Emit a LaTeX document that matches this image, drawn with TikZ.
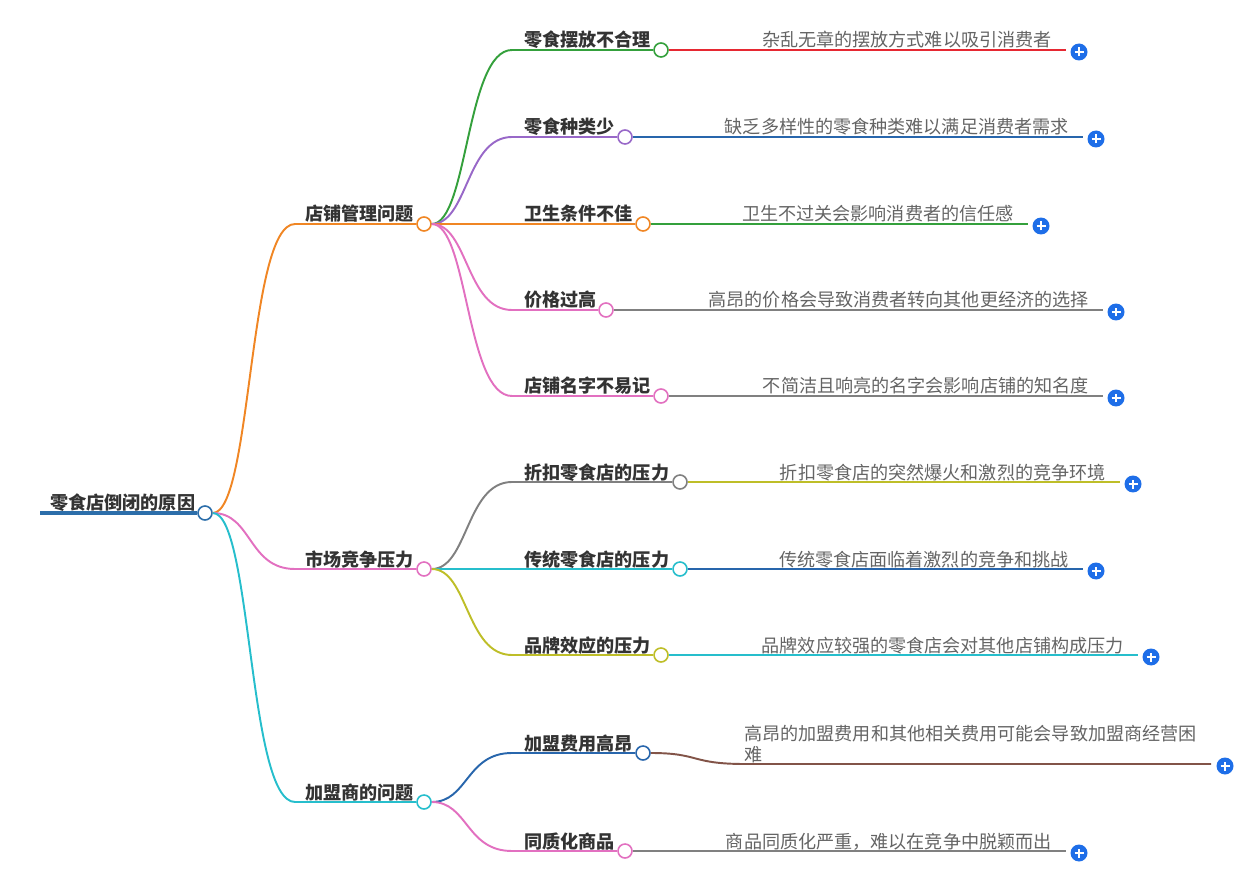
\documentclass[tikz,border=0pt]{standalone}
\usepackage{fontspec}
\setmainfont{Noto Sans CJK SC}
\usepackage{tikz}
\usetikzlibrary{positioning}
\usepackage{xcolor}
\definecolor{rootblue}{RGB}{44,110,170}
\definecolor{corange}{RGB}{240,134,36}
\definecolor{cpink}{RGB}{226,112,192}
\definecolor{ccyan}{RGB}{38,190,204}
\definecolor{cgreen}{RGB}{52,160,60}
\definecolor{cpurple}{RGB}{152,104,200}
\definecolor{cred}{RGB}{230,40,50}
\definecolor{cblue}{RGB}{40,102,172}
\definecolor{cgray}{RGB}{128,128,128}
\definecolor{colive}{RGB}{190,190,40}
\definecolor{cbrown}{RGB}{130,84,72}
\definecolor{plusblue}{RGB}{30,110,232}
\definecolor{txtdark}{RGB}{51,51,51}
\definecolor{txtgray}{RGB}{100,100,100}

\begin{document}
\begin{tikzpicture}[x=0.02cm, y=-0.02cm,
    dot/.style={circle, draw=#1, fill=white, line width=0.9pt, minimum size=0.28cm, inner sep=0pt},
    lbl/.style={anchor=base west, inner sep=0pt, text=txtdark, font=\fontsize{10.3}{12}\selectfont\bfseries},
    desc/.style={anchor=base east, inner sep=0pt, text=txtgray, font=\fontsize{10.3}{12}\selectfont},
    link/.style={line width=1.1pt},
    plusbtn/.style={circle, fill=plusblue, minimum size=0.34cm, inner sep=0pt,
        path picture={\draw[white, line width=1.1pt]
            ([xshift=-0.09cm]path picture bounding box.center) -- ([xshift=0.09cm]path picture bounding box.center)
            ([yshift=-0.09cm]path picture bounding box.center) -- ([yshift=0.09cm]path picture bounding box.center);}}]
    \useasboundingbox (0,0) rectangle (1248,885);

    % Root
    \coordinate (rootstart) at (40,513);
    \node[dot=rootblue] (rootdot) at (205,513) {};
    \node[lbl] (root) at (50,509) {零食店倒闭的原因};
    \draw[rootblue, line width=2.3pt] (rootstart) -- (rootdot.west);

    % Branches
    \node[dot=corange] (b1) at (424,224) {};
    \node[dot=cpink] (b2) at (424,569) {};
    \node[dot=ccyan] (b3) at (424,802) {};
    \node[lbl] (t1) at (305,221) {店铺管理问题};
    \node[lbl] (t2) at (305,566) {市场竞争压力};
    \node[lbl] (t3) at (305,799) {加盟商的问题};
    \draw[link, corange] (rootdot.east) .. controls (252,513) and (248,224) .. (295,224) -- (b1.west);
    \draw[link, cpink] (rootdot.east) .. controls (252,513) and (248,569) .. (295,569) -- (b2.west);
    \draw[link, ccyan] (rootdot.east) .. controls (252,513) and (248,802) .. (295,802) -- (b3.west);

    % Leaves
    \node[dot=cgreen] (l1) at (661,50) {};
    \node[dot=cpurple] (l2) at (625,137) {};
    \node[dot=corange] (l3) at (643,224) {};
    \node[dot=cpink] (l4) at (606,310) {};
    \node[dot=cpink] (l5) at (661,396) {};
    \node[dot=cgray] (l6) at (680,482) {};
    \node[dot=ccyan] (l7) at (680,569) {};
    \node[dot=colive] (l8) at (661,655) {};
    \node[dot=cblue] (l9) at (643,753) {};
    \node[dot=cpink] (l10) at (625,851) {};
    \node[lbl] (s1) at (524,47) {零食摆放不合理};
    \node[lbl] (s2) at (524,134) {零食种类少};
    \node[lbl] (s3) at (524,221) {卫生条件不佳};
    \node[lbl] (s4) at (524,307) {价格过高};
    \node[lbl] (s5) at (524,393) {店铺名字不易记};
    \node[lbl] (s6) at (524,479) {折扣零食店的压力};
    \node[lbl] (s7) at (524,566) {传统零食店的压力};
    \node[lbl] (s8) at (524,652) {品牌效应的压力};
    \node[lbl] (s9) at (524,750) {加盟费用高昂};
    \node[lbl] (s10) at (524,848) {同质化商品};
    \draw[link, cgreen] (b1.east) .. controls (468,224) and (466,50) .. (512,50) -- (l1.west);
    \draw[link, cpurple] (b1.east) .. controls (468,224) and (466,137) .. (512,137) -- (l2.west);
    \draw[link, corange] (b1.east) -- (l3.west);
    \draw[link, cpink] (b1.east) .. controls (468,224) and (466,310) .. (512,310) -- (l4.west);
    \draw[link, cpink] (b1.east) .. controls (468,224) and (466,396) .. (512,396) -- (l5.west);
    \draw[link, cgray] (b2.east) .. controls (468,569) and (466,482) .. (512,482) -- (l6.west);
    \draw[link, ccyan] (b2.east) -- (l7.west);
    \draw[link, colive] (b2.east) .. controls (468,569) and (466,655) .. (512,655) -- (l8.west);
    \draw[link, cblue] (b3.east) .. controls (468,802) and (466,753) .. (512,753) -- (l9.west);
    \draw[link, cpink] (b3.east) .. controls (468,802) and (466,851) .. (512,851) -- (l10.west);

    % Descriptions
    \foreach \n/\y/\xe/\dc/\dtxt in {
        1/50/1066/cred/杂乱无章的摆放方式难以吸引消费者,
        2/137/1083/cblue/缺乏多样性的零食种类难以满足消费者需求,
        3/224/1028/cgreen/卫生不过关会影响消费者的信任感,
        4/310/1103/cgray/高昂的价格会导致消费者转向其他更经济的选择,
        5/396/1103/cgray/不简洁且响亮的名字会影响店铺的知名度,
        6/482/1120/colive/折扣零食店的突然爆火和激烈的竞争环境,
        7/569/1083/cblue/传统零食店面临着激烈的竞争和挑战,
        8/655/1138/ccyan/品牌效应较强的零食店会对其他店铺构成压力,
        10/851/1066/cgray/商品同质化严重，难以在竞争中脱颖而出} {
        \coordinate (e\n) at (\xe,\y);
        \node[plusbtn] (p\n) at (\xe+13,\y+2) {};
        \draw[link, \dc] (l\n.east) -- (e\n);
        \node[desc] (d\n) at (\xe-14,\y-3) {\dtxt};
    }
    \coordinate (e9) at (1211,764);
    \node[plusbtn] (p9) at (1225,766) {};
    \draw[link, cbrown] (l9.east) .. controls (700,753) and (690,764) .. (745,764) -- (e9);
    \node[desc, anchor=base west, align=left, text width=9.4cm] (d9) at (744,740)
        {高昂的加盟费用和其他相关费用可能会导致加盟商经营困\\难};
\end{tikzpicture}
\end{document}
